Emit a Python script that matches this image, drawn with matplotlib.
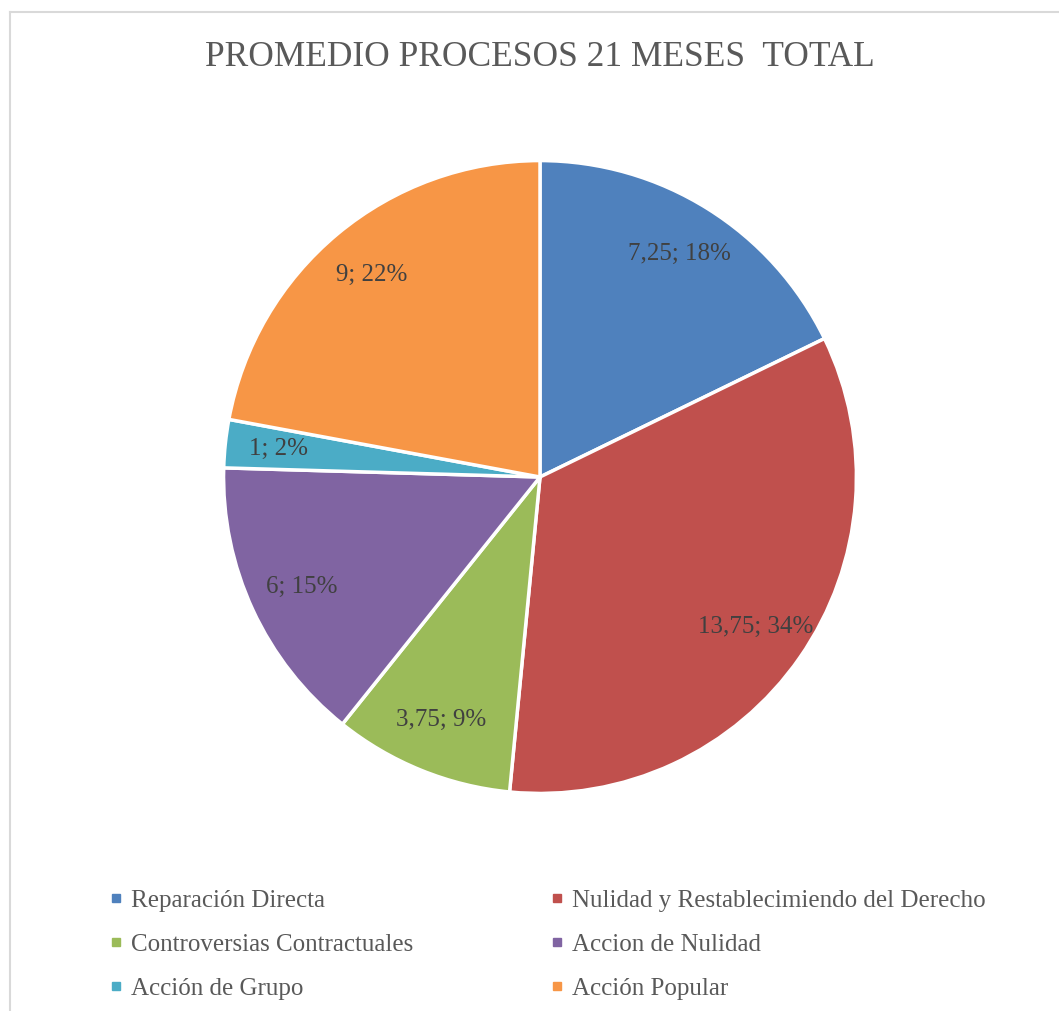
import matplotlib
matplotlib.use("Agg")
import matplotlib.pyplot as plt
from matplotlib.lines import Line2D

# data
categories = ["Reparación Directa", "Nulidad y Restablecimiendo del Derecho",
              "Controversias Contractuales", "Accion de Nulidad",
              "Acción de Grupo", "Acción Popular"]
values = [7.25, 13.75, 3.75, 6, 1, 9]
colors = ["#4F81BD", "#C0504D", "#9BBB59", "#8064A2", "#4BACC6", "#F79646"]
title = "PROMEDIO PROCESOS 21 MESES  TOTAL"

plt.rcParams['font.family'] = ['Liberation Serif', 'DejaVu Serif']

W, H = 1059, 1011
fig = plt.figure(figsize=(W / 100, H / 100), dpi=100)
fig.patch.set_facecolor("white")

total = sum(values)


def fmt(pct):
    v = pct * total / 100
    s = ("%g" % round(v, 2)).replace(".", ",")
    return "%s; %d%%" % (s, round(pct))


ax = fig.add_axes([222 / W, 1 - 795 / H, 636 / W, 636 / H])
wedges, _, autotexts = ax.pie(values, colors=colors, startangle=90, counterclock=False,
                              autopct=fmt, pctdistance=0.83,
                              wedgeprops=dict(edgecolor="white", linewidth=2.5),
                              textprops=dict(color="#404040", fontsize=18))
ax.set_xlim(-1.005, 1.005)
ax.set_ylim(-1.005, 1.005)
ax.set_aspect("equal")

fig.text(540 / W, 1 - 57 / H, title, ha="center", va="center",
         fontsize=25.5, color="#595959")

# legend, filled row-wise like the original
order = [0, 2, 4, 1, 3, 5]
handles = [Line2D([], [], marker="s", linestyle="none", markersize=6,
                  markerfacecolor=colors[i], markeredgecolor=colors[i]) for i in order]
labels = [categories[i] for i in order]
leg = fig.legend(handles, labels, ncol=2, loc="upper left",
                 bbox_to_anchor=(97 / W, 1 - 877 / H), frameon=False,
                 fontsize=18, handlelength=0.5, handletextpad=0.35,
                 columnspacing=5.5, labelspacing=0.85, borderpad=0)
for t in leg.get_texts():
    t.set_color("#595959")

# chart area border (cropped on the right and bottom)
bc = "#D9D9D9"
fig.add_artist(Line2D([9.5 / W, 9.5 / W], [1 - 12 / H, 0], color=bc, lw=1.5))
fig.add_artist(Line2D([9.5 / W, 1], [1 - 12 / H, 1 - 12 / H], color=bc, lw=1.5))

fig.savefig("out.png", dpi=100)
